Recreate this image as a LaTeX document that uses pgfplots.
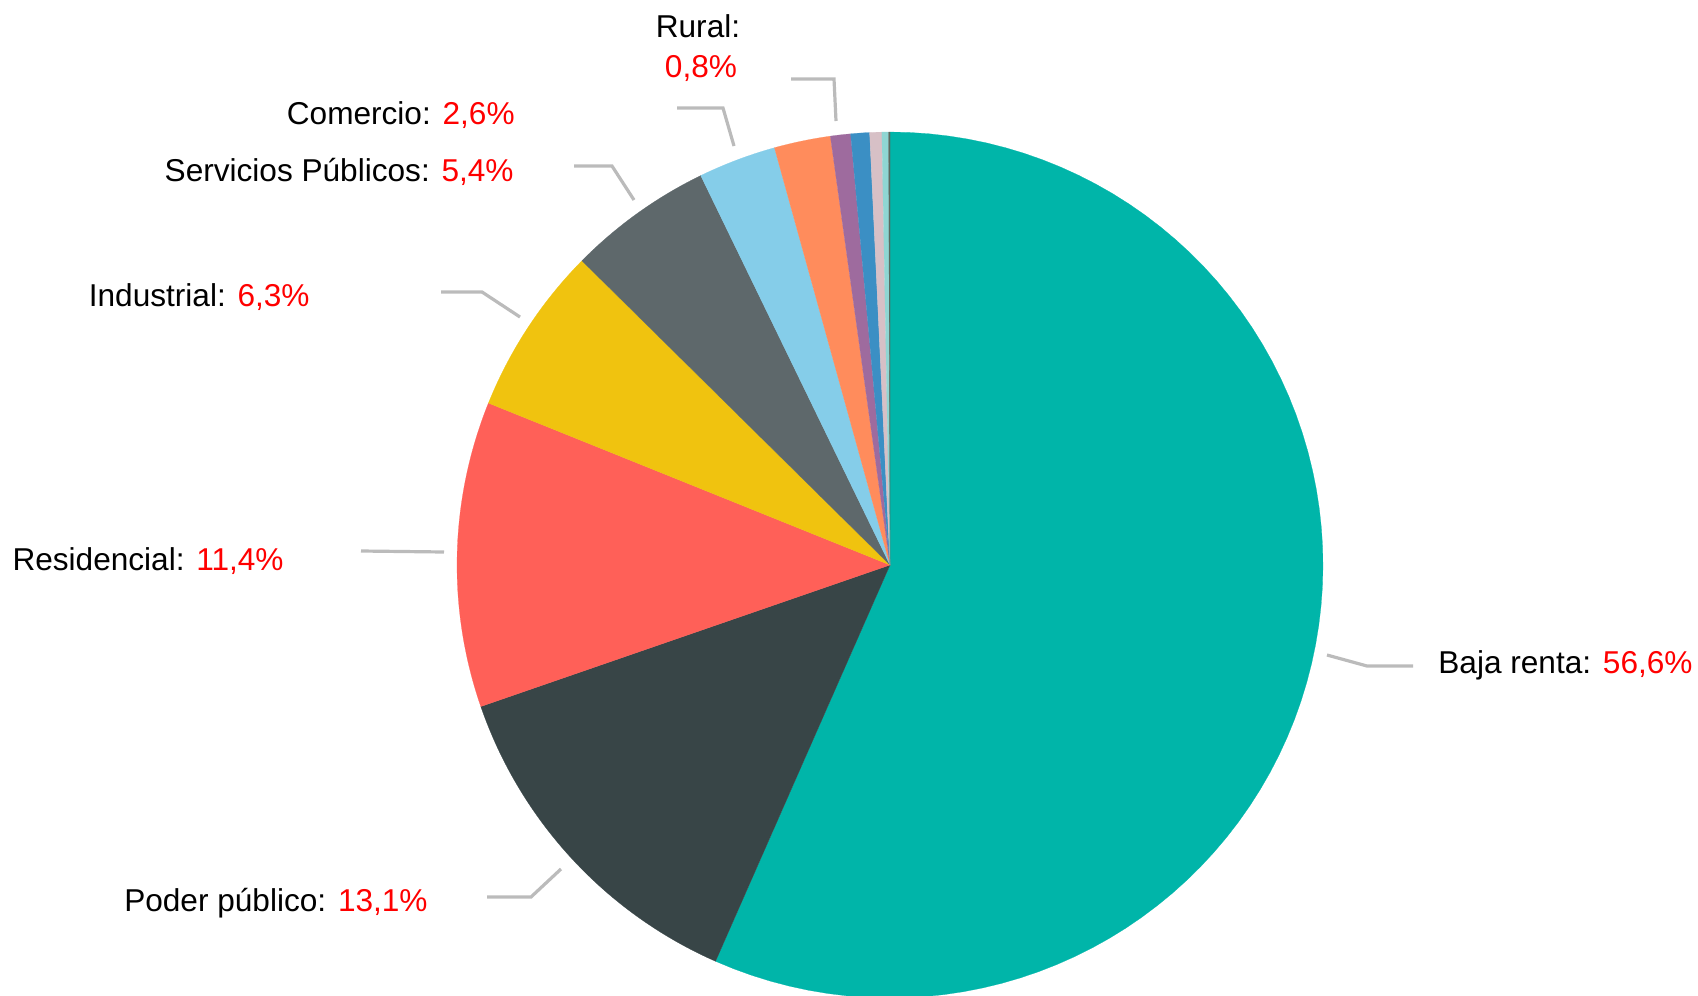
\documentclass[border=0pt]{standalone}
\usepackage{fontspec}
\setmainfont{Liberation Sans}
\usepackage{pgfplots}
\usepackage{pgfplotstable}
\pgfplotsset{compat=1.18}

\definecolor{cTeal}{HTML}{00B5A9}
\definecolor{cDark}{HTML}{384547}
\definecolor{cRed}{HTML}{FF6058}
\definecolor{cYellow}{HTML}{F0C30F}
\definecolor{cGray}{HTML}{5E686B}
\definecolor{cLightBlue}{HTML}{85CDE9}
\definecolor{cOrange}{HTML}{FF8C5C}
\definecolor{cPurple}{HTML}{9E6B9E}
\definecolor{cBlue}{HTML}{3B8FC4}
\definecolor{cPink}{HTML}{D7C0C6}
\definecolor{cLightTeal}{HTML}{8FD6D3}
\definecolor{cDarkLine}{HTML}{5A6A60}
\definecolor{cLeader}{HTML}{BBBBBB}
\definecolor{cPct}{HTML}{FF0000}

% slice shares in percent, clockwise from 12 o'clock
\pgfplotstableread{
label value color
BajaRenta 56.6 cTeal
PoderPublico 13.1 cDark
Residencial 11.4 cRed
Industrial 6.3 cYellow
ServiciosPublicos 5.4 cGray
Comercio 2.9 cLightBlue
Otro1 2.1 cOrange
Rural 0.75 cPurple
Otro2 0.7 cBlue
Otro3 0.45 cPink
Otro4 0.25 cLightTeal
Otro5 0.05 cDarkLine
}\slices

\tikzset{lbl/.style={inner sep=0pt, font=\fontsize{15.8pt}{19pt}\selectfont}}

\begin{document}
\begin{tikzpicture}
\begin{axis}[
  scale only axis, width=849pt, height=498pt,
  xmin=0, xmax=1698, ymin=0, ymax=996, y dir=reverse,
  hide axis, clip=false]

\pgfplotstablegetrowsof{\slices}
\pgfmathtruncatemacro\nrows{\pgfplotsretval-1}
\def\cum{0}
\pgfplotsforeachungrouped \i in {0,...,\nrows}{%
  \pgfplotstablegetelem{\i}{value}\of\slices \let\v\pgfplotsretval
  \pgfplotstablegetelem{\i}{color}\of\slices \let\c\pgfplotsretval
  \pgfmathsetmacro\aone{\cum*3.6}%
  \pgfmathsetmacro\atwo{(\cum+\v)*3.6}%
  \pgfmathsetmacro\cum{\cum+\v}%
  \edef\temp{\noexpand\addplot[fill=\c, draw=\c, line width=0.1pt, domain=\aone:\atwo, samples=80, variable=\noexpand\t]
    ({890+433*sin(\noexpand\t)},{565-433*cos(\noexpand\t)}) -- (axis cs:890,565) -- cycle;}%
  \temp
}

% leader lines
\addplot[cLeader, line width=1.6pt] coordinates {(791,79) (834,79) (836,121)};
\addplot[cLeader, line width=1.6pt] coordinates {(677,108) (723,108) (734,146)};
\addplot[cLeader, line width=1.6pt] coordinates {(574,166) (612,166) (634,200)};
\addplot[cLeader, line width=1.6pt] coordinates {(441,292) (482,292) (520,317)};
\addplot[cLeader, line width=1.6pt] coordinates {(361,551) (444,552)};
\addplot[cLeader, line width=1.6pt] coordinates {(487,897) (531,897) (561,869)};
\addplot[cLeader, line width=1.6pt] coordinates {(1327,655) (1367,666) (1413,666)};

% labels
\node[lbl, anchor=base] at (axis cs:698,37) {Rural:};
\node[lbl, anchor=base] at (axis cs:701,77) {\textcolor{cPct}{0,8\%}};
\node[lbl, anchor=base east] at (axis cs:515,124) {Comercio: \textcolor{cPct}{2,6\%}};
\node[lbl, anchor=base east] at (axis cs:514,181) {Servicios Públicos: \textcolor{cPct}{5,4\%}};
\node[lbl, anchor=base east] at (axis cs:310,306) {Industrial: \textcolor{cPct}{6,3\%}};
\node[lbl, anchor=base east] at (axis cs:284,570) {Residencial: \textcolor{cPct}{11,4\%}};
\node[lbl, anchor=base east] at (axis cs:428,911) {Poder público: \textcolor{cPct}{13,1\%}};
\node[lbl, anchor=base west] at (axis cs:1438,673) {Baja renta: \textcolor{cPct}{56,6\%}};
\end{axis}
\pgfresetboundingbox
\path (current axis.south west) rectangle (current axis.north east);
\end{tikzpicture}
\end{document}
